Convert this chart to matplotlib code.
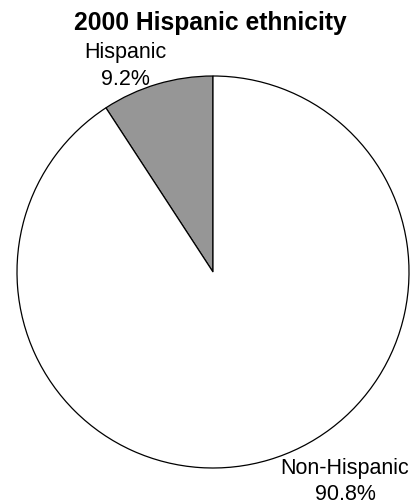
import matplotlib
matplotlib.use("Agg")
import matplotlib.pyplot as plt

title = "2000 Hispanic ethnicity"
categories = ["Hispanic", "Non-Hispanic"]
percents = [9.2, 90.8]
colors = ["#969696", "#ffffff"]

W, H = 414, 504
fig = plt.figure(figsize=(W / 100, H / 100), dpi=100)
ax = fig.add_axes([0, 0, 1, 1])

def fy(y):
    # convert from top-down pixel row to axis y
    return H - y

cx, cy, r = 213, 272, 196
ax.pie(percents, colors=colors, startangle=90, counterclock=True,
       center=(cx, fy(cy)), radius=r, frame=True,
       wedgeprops=dict(edgecolor="black", linewidth=0.9))
ax.set_xlim(0, W)
ax.set_ylim(0, H)
ax.set_aspect("equal")
ax.axis("off")

font = "Liberation Sans"
ax.text(210, fy(30), title, ha="center", va="baseline", fontsize=17.7,
        fontweight="bold", family=font)
label_pos = [(125, 58, 85), (345, 474, 500)]
for cat, p, (x, y1, y2) in zip(categories, percents, label_pos):
    ax.text(x, fy(y1), cat, ha="center", va="baseline", fontsize=15.5, family=font)
    ax.text(x, fy(y2), f"{p:.1f}%", ha="center", va="baseline", fontsize=15.5, family=font)

fig.savefig("out.png", dpi=100)
